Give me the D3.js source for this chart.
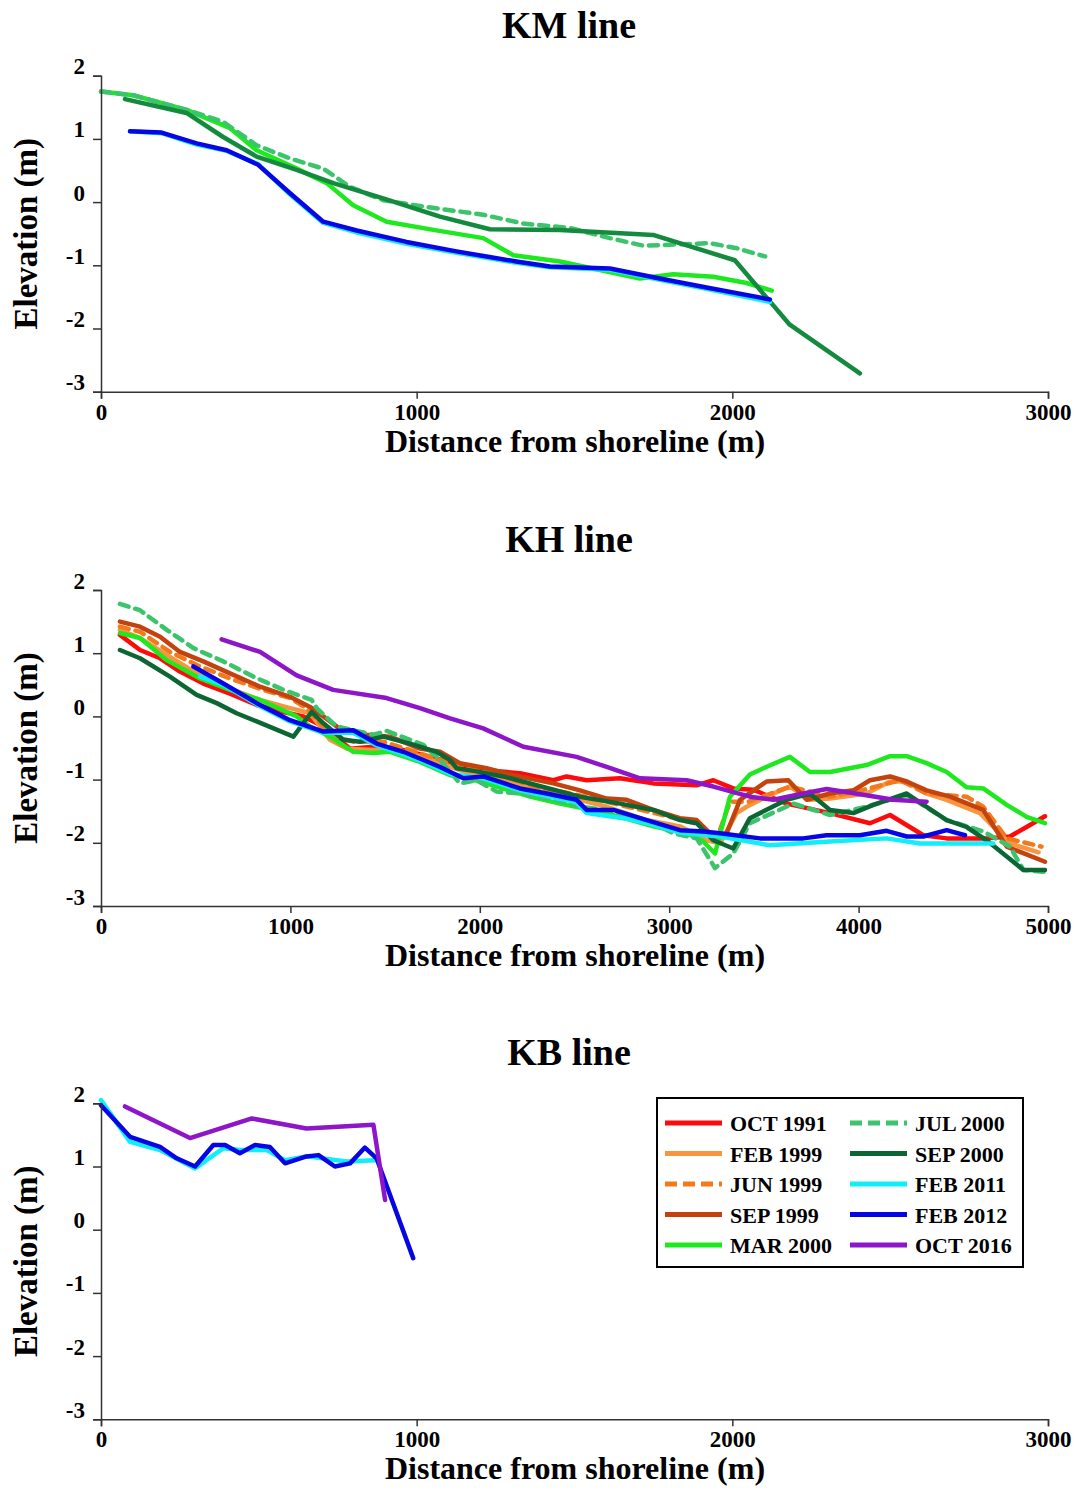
<html>
<head>
<meta charset="utf-8">
<script src="https://d3js.org/d3.v7.min.js"></script>
<style>
body { margin: 0; background: #fff; }
svg text { font-family: 'Liberation Serif', 'Times New Roman', serif; font-weight: bold; fill: #000; }
.axis path, .axis line { stroke: #333; stroke-width: 1.5; }
</style>
</head>
<body>
<div id="chart"></div>
<script>
var width = 1083, height = 1497;

// series names, colours, dashes (legend order = draw order)
var seriesNames = ["OCT 1991", "FEB 1999", "JUN 1999", "SEP 1999", "MAR 2000",
                   "JUL 2000", "SEP 2000", "FEB 2011", "FEB 2012", "OCT 2016"];
var seriesColors = ["#ff0a0a", "#f7963f", "#f27a1c", "#c4420e", "#1ee81e",
                    "#3cc46c", "#0b6634", "#10eef8", "#0505e6", "#8c16c8"];
var dashed = ["JUN 1999", "JUL 2000"];

var yTicks = [2, 1, 0, -1, -2, -3];

// ---- KM line ----
var kmMar2000 = [[0,1.75],[102,1.69],[271,1.46],[409,1.17],[493,0.82],[620,0.53],[715,0.30],[799,-0.05],[905,-0.31],[1053,-0.44],[1211,-0.57],[1306,-0.84],[1454,-0.94],[1707,-1.21],[1813,-1.14],[1940,-1.18],[2045,-1.28],[2125,-1.40]];
var kmJul2000 = [[0,1.75],[102,1.69],[271,1.46],[387,1.27],[493,0.90],[599,0.69],[704,0.53],[789,0.24],[894,0.03],[1021,-0.07],[1211,-0.20],[1338,-0.34],[1486,-0.41],[1612,-0.57],[1718,-0.69],[1824,-0.67],[1929,-0.65],[2014,-0.73],[2104,-0.86]];
var kmSep2000 = [[76,1.63],[271,1.41],[387,1.03],[493,0.72],[620,0.51],[736,0.30],[894,0.06],[1074,-0.23],[1232,-0.43],[1454,-0.44],[1749,-0.52],[2008,-0.92],[2182,-1.94],[2404,-2.71]];
var kmFeb2011 = [[92,1.12],[192,1.09],[303,0.91],[398,0.81],[498,0.60],[599,0.12],[704,-0.33],[810,-0.48],[968,-0.66],[1126,-0.80],[1316,-0.96],[1422,-1.03],[1612,-1.07],[1770,-1.23],[1918,-1.37],[2119,-1.58]];
var kmFeb2012 = [[92,1.12],[192,1.10],[303,0.93],[398,0.82],[498,0.59],[599,0.14],[704,-0.31],[810,-0.45],[968,-0.63],[1126,-0.78],[1316,-0.94],[1422,-1.02],[1612,-1.05],[1770,-1.21],[1918,-1.35],[2119,-1.54]];

// ---- KH line ----
var khOct1991 = [[100,1.29],[206,1.05],[312,0.92],[417,0.71],[540,0.52],[681,0.36],[822,0.18],[963,0.07],[1068,0.00],[1174,-0.16],[1315,-0.51],[1438,-0.48],[1596,-0.53],[1737,-0.64],[1843,-0.72],[1895,-0.80],[2036,-0.85],[2212,-0.90],[2388,-1.01],[2458,-0.95],[2564,-1.01],[2740,-0.98],[2916,-1.06],[3145,-1.09],[3233,-1.01],[3338,-1.14],[3444,-1.16],[3620,-1.38],[3849,-1.53],[4060,-1.69],[4166,-1.56],[4342,-1.88],[4465,-1.93],[4676,-1.93],[4799,-1.90],[4887,-1.75],[4984,-1.58]];
var khFeb1999 = [[100,1.37],[206,1.24],[364,0.94],[523,0.65],[681,0.44],[840,0.26],[998,0.13],[1104,0.05],[1209,-0.37],[1297,-0.51],[1438,-0.53],[1561,-0.53],[1702,-0.64],[1843,-0.80],[1948,-0.90],[2124,-1.01],[2300,-1.17],[2529,-1.32],[2670,-1.43],[2881,-1.64],[3057,-1.74],[3198,-1.96],[3268,-2.01],[3356,-1.53],[3409,-1.43],[3514,-1.27],[3637,-1.11],[3743,-1.32],[3849,-1.30],[4042,-1.22],[4166,-1.03],[4254,-1.03],[4359,-1.22],[4465,-1.32],[4641,-1.53],[4746,-1.85],[4799,-2.01],[4950,-2.15]];
var khJun1999 = [[100,1.42],[206,1.34],[364,1.02],[523,0.79],[681,0.60],[857,0.42],[998,0.29],[1086,0.13],[1209,-0.30],[1332,-0.40],[1490,-0.40],[1650,-0.55],[1843,-0.74],[2036,-0.86],[2300,-1.12],[2529,-1.25],[2740,-1.40],[2950,-1.55],[3150,-1.70],[3250,-1.95],[3321,-1.35],[3420,-1.35],[3637,-1.11],[3849,-1.27],[4042,-1.15],[4218,-1.01],[4359,-1.22],[4570,-1.27],[4658,-1.43],[4782,-1.93],[4966,-2.06]];
var khSep1999 = [[100,1.50],[206,1.42],[312,1.26],[417,1.02],[540,0.87],[681,0.68],[840,0.47],[998,0.31],[1104,0.15],[1174,0.00],[1280,-0.24],[1403,-0.29],[1526,-0.32],[1684,-0.51],[1790,-0.56],[1895,-0.74],[2036,-0.82],[2177,-0.93],[2388,-1.06],[2529,-1.17],[2670,-1.30],[2775,-1.32],[2916,-1.48],[3057,-1.61],[3145,-1.64],[3233,-1.90],[3303,-1.85],[3374,-1.32],[3514,-1.03],[3629,-1.01],[3726,-1.32],[3849,-1.22],[3972,-1.17],[4060,-1.01],[4166,-0.95],[4254,-1.03],[4359,-1.17],[4482,-1.27],[4658,-1.48],[4782,-2.06],[4984,-2.30]];
var khMar2000 = [[100,1.32],[206,1.24],[347,0.89],[523,0.60],[681,0.42],[840,0.26],[1033,0.00],[1104,-0.16],[1209,-0.32],[1332,-0.56],[1438,-0.58],[1526,-0.56],[1684,-0.72],[1843,-0.93],[1895,-0.95],[2036,-1.06],[2265,-1.27],[2423,-1.38],[2670,-1.53],[2916,-1.74],[3092,-1.85],[3180,-1.98],[3242,-2.17],[3321,-1.27],[3426,-0.92],[3497,-0.82],[3637,-0.64],[3743,-0.88],[3849,-0.88],[4042,-0.77],[4166,-0.63],[4254,-0.63],[4359,-0.74],[4465,-0.88],[4570,-1.12],[4658,-1.14],[4782,-1.40],[4887,-1.59],[4984,-1.69]];
var khJul2000 = [[100,1.78],[206,1.68],[347,1.37],[488,1.08],[646,0.87],[804,0.63],[963,0.42],[1112,0.26],[1139,0.13],[1244,-0.16],[1332,-0.22],[1438,-0.29],[1508,-0.23],[1614,-0.35],[1702,-0.45],[1790,-0.69],[1895,-1.06],[1983,-1.01],[2089,-1.19],[2212,-1.22],[2388,-1.32],[2529,-1.43],[2670,-1.48],[2881,-1.64],[3022,-1.85],[3145,-1.93],[3242,-2.40],[3338,-2.17],[3426,-1.69],[3655,-1.38],[3849,-1.56],[4042,-1.43],[4254,-1.24],[4465,-1.64],[4658,-1.82],[4799,-2.06],[4870,-2.43],[4984,-2.46]];
var khSep2000 = [[100,1.05],[206,0.92],[364,0.63],[505,0.34],[611,0.21],[716,0.05],[822,-0.08],[1016,-0.32],[1112,0.07],[1174,-0.11],[1280,-0.37],[1368,-0.40],[1491,-0.32],[1632,-0.43],[1772,-0.56],[1843,-0.69],[1878,-0.82],[1983,-0.87],[2124,-0.95],[2300,-1.09],[2529,-1.27],[2740,-1.38],[2916,-1.48],[3057,-1.64],[3145,-1.69],[3233,-1.96],[3338,-2.09],[3426,-1.61],[3620,-1.32],[3743,-1.22],[3849,-1.48],[3972,-1.53],[4078,-1.40],[4254,-1.22],[4359,-1.43],[4465,-1.64],[4570,-1.75],[4676,-1.96],[4870,-2.43],[4984,-2.43]];
var khFeb2011 = [[523,0.63],[646,0.50],[822,0.19],[998,-0.08],[1174,-0.26],[1332,-0.26],[1455,-0.46],[1596,-0.60],[1702,-0.72],[1843,-0.91],[2018,-0.98],[2212,-1.17],[2353,-1.26],[2511,-1.36],[2564,-1.53],[2775,-1.62],[2881,-1.69],[3057,-1.84],[3268,-1.90],[3532,-2.04],[3849,-1.98],[4148,-1.93],[4324,-2.01],[4500,-2.01],[4711,-2.01]];
var khFeb2012 = [[488,0.79],[646,0.52],[822,0.21],[998,-0.06],[1174,-0.24],[1332,-0.22],[1455,-0.43],[1596,-0.56],[1702,-0.69],[1790,-0.80],[1913,-0.98],[2018,-0.95],[2212,-1.14],[2353,-1.22],[2511,-1.32],[2564,-1.48],[2705,-1.48],[2881,-1.64],[3057,-1.80],[3180,-1.82],[3268,-1.85],[3479,-1.93],[3708,-1.93],[3831,-1.88],[4007,-1.88],[4148,-1.81],[4254,-1.90],[4342,-1.90],[4465,-1.80],[4562,-1.88]];
var khOct2016 = [[637,1.22],[840,1.02],[1033,0.65],[1226,0.42],[1508,0.29],[1684,0.13],[1843,-0.03],[2018,-0.19],[2230,-0.48],[2511,-0.64],[2670,-0.80],[2846,-0.98],[3092,-1.01],[3233,-1.11],[3426,-1.27],[3550,-1.32],[3708,-1.22],[3831,-1.15],[4025,-1.24],[4183,-1.32],[4359,-1.35]];

// ---- KB line ----
var kbFeb2011 = [[0,2.05],[92,1.39],[187,1.26],[298,0.97],[388,1.29],[440,1.26],[525,1.26],[583,1.10],[651,1.16],[779,1.08],[868,1.10]];
var kbFeb2012 = [[0,1.97],[92,1.47],[187,1.31],[240,1.13],[298,1.00],[356,1.34],[393,1.34],[440,1.21],[488,1.34],[535,1.31],[583,1.05],[651,1.16],[689,1.18],[741,1.00],[789,1.05],[836,1.30],[873,1.13],[989,-0.45]];
var kbOct2016 = [[76,1.95],[282,1.45],[478,1.76],[651,1.60],[863,1.66],[900,0.47]];

var panels = [
  { title: "KM line", top: 75.7, xMax: 3000, xTicks: [0, 1000, 2000, 3000],
    series: [["MAR 2000", kmMar2000], ["JUL 2000", kmJul2000], ["SEP 2000", kmSep2000],
             ["FEB 2011", kmFeb2011], ["FEB 2012", kmFeb2012]] },
  { title: "KH line", top: 590, xMax: 5000, xTicks: [0, 1000, 2000, 3000, 4000, 5000],
    series: [["OCT 1991", khOct1991], ["FEB 1999", khFeb1999], ["JUN 1999", khJun1999],
             ["SEP 1999", khSep1999], ["MAR 2000", khMar2000], ["JUL 2000", khJul2000],
             ["SEP 2000", khSep2000], ["FEB 2011", khFeb2011], ["FEB 2012", khFeb2012],
             ["OCT 2016", khOct2016]] },
  { title: "KB line", top: 1103.3, xMax: 3000, xTicks: [0, 1000, 2000, 3000],
    series: [["FEB 2011", kbFeb2011], ["FEB 2012", kbFeb2012], ["OCT 2016", kbOct2016]] }
];

// KM SEP 2000 is drawn in a lighter green in the original
var colorOverride = { "KM line|SEP 2000": "#138a3e" };

var color = d3.scaleOrdinal().domain(seriesNames).range(seriesColors);
var plain = function (d) { return String(d); };   // hyphen minus, like the original

var svg = d3.select("#chart").append("svg")
  .attr("width", width).attr("height", height);

var left = 101, right = 1048, plotH = 316;

function drawPanel(p) {
  var x = d3.scaleLinear().domain([0, p.xMax]).range([left, right]);
  var y = d3.scaleLinear().domain([-3, 2]).range([p.top + plotH, p.top]);
  var g = svg.append("g");

  var line = d3.line().x(function (d) { return x(d[0]); }).y(function (d) { return y(d[1]); });

  p.series.forEach(function (s) {
    var c = colorOverride[p.title + "|" + s[0]] || color(s[0]);
    g.append("path")
      .datum(s[1])
      .attr("d", line)
      .attr("fill", "none")
      .attr("stroke", c)
      .attr("stroke-width", 4.5)
      .attr("stroke-linejoin", "round")
      .attr("stroke-linecap", "round")
      .attr("stroke-dasharray", dashed.indexOf(s[0]) >= 0 ? "9,7" : null);
  });

  var xAxis = d3.axisBottom(x).tickValues(p.xTicks).tickSize(7).tickSizeOuter(7).tickFormat(plain);
  var gx = g.append("g").attr("class", "axis")
    .attr("transform", "translate(0," + y(-3) + ")").call(xAxis);
  gx.selectAll("text").attr("y", 28).attr("dy", 0).style("font-size", "23px");

  var yAxis = d3.axisLeft(y).tickValues(yTicks).tickSize(8).tickSizeOuter(8).tickFormat(plain);
  var gy = g.append("g").attr("class", "axis")
    .attr("transform", "translate(" + left + ",0)").call(yAxis);
  gy.selectAll("text").attr("x", -16).attr("dy", -2).style("font-size", "23px");

  g.append("text").attr("x", 569).attr("y", p.top - 38)
    .attr("text-anchor", "middle").style("font-size", "38px").text(p.title);

  g.append("text").attr("x", 575).attr("y", y(-3) + 60)
    .attr("text-anchor", "middle").style("font-size", "32px").text("Distance from shoreline (m)");

  g.append("text")
    .attr("transform", "translate(37," + (p.top + plotH / 2) + ") rotate(-90)")
    .attr("text-anchor", "middle").style("font-size", "33px").text("Elevation (m)");
}

panels.forEach(drawPanel);

// legend
var legend = svg.append("g").attr("transform", "translate(657,1098)");
legend.append("rect").attr("width", 366).attr("height", 169)
  .attr("fill", "#fff").attr("stroke", "#000").attr("stroke-width", 2);

seriesNames.forEach(function (name, i) {
  var col = Math.floor(i / 5), row = i % 5;
  var lx = 8 + col * 185, ly = 25 + row * 30.5;
  legend.append("line")
    .attr("x1", lx).attr("x2", lx + 57).attr("y1", ly).attr("y2", ly)
    .attr("stroke", color(name)).attr("stroke-width", 5)
    .attr("stroke-dasharray", dashed.indexOf(name) >= 0 ? "12,6" : null);
  legend.append("text").attr("x", lx + 65).attr("y", ly + 8)
    .style("font-size", "22px").text(name);
});
</script>
</body>
</html>
